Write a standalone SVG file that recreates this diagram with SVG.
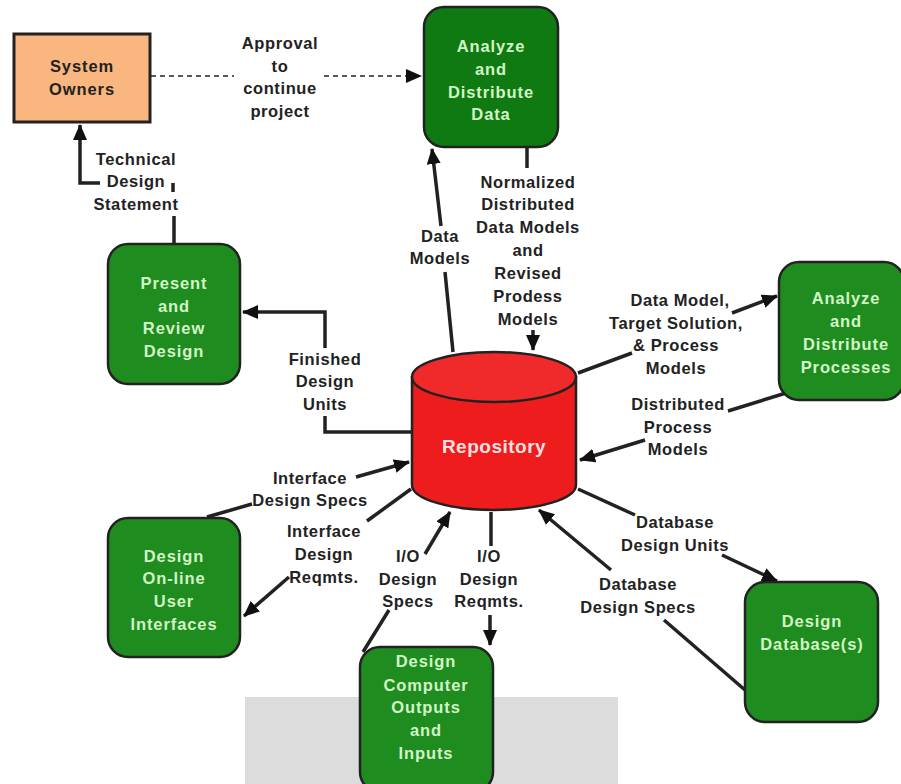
<svg xmlns="http://www.w3.org/2000/svg" width="901" height="784" viewBox="0 0 901 784">
<style>
.lbl{font-family:"Liberation Sans",Arial,sans-serif;font-weight:bold;font-size:16.5px;letter-spacing:0.6px;fill:#222;text-anchor:middle}
.nt{font-family:"Liberation Sans",Arial,sans-serif;font-weight:bold;font-size:16.5px;letter-spacing:0.9px;fill:#d2f5c6;text-anchor:middle}
.box{fill:#1f8c1f;stroke:#222;stroke-width:2.5}
.dk{fill:#0f7a12}
.ln{fill:none;stroke:#222;stroke-width:3.5}
</style>
<defs>
<marker id="ah" markerUnits="userSpaceOnUse" markerWidth="16" markerHeight="14" viewBox="0 0 16 14" refX="15" refY="7" orient="auto">
<path d="M0,0 L16,7 L0,14 Z" fill="#111"/>
</marker>
</defs>
<rect width="901" height="784" fill="#fff"/>
<rect x="245" y="697" width="373" height="87" fill="#dcdcdc"/>

<g id="connectors">
<path class="ln" d="M151,76 H234 M324,76 H421" stroke-dasharray="5,4" style="stroke-width:1.5" marker-end="url(#ah)"/>
<path class="ln" d="M174,244 V216 M173,192 V183 M100,183 H80 V125" marker-end="url(#ah)"/>
<path class="ln" d="M453,352 L445,272 M441,226 L432,149" marker-end="url(#ah)"/>
<path class="ln" d="M527,148 V168 M533,330 V350" marker-end="url(#ah)"/>
<path class="ln" d="M578,373 L632,353 M732,313 L777,296" marker-end="url(#ah)"/>
<path class="ln" d="M786,393 L728,411 M645,440 L580,460" marker-end="url(#ah)"/>
<path class="ln" d="M411,432 H325 V416 M325,348 V312 H243" marker-end="url(#ah)"/>
<path class="ln" d="M207,517 L252,504 M356,477 L409,462" marker-end="url(#ah)"/>
<path class="ln" d="M411,489 L367,521 M289,577 L244,616" marker-end="url(#ah)"/>
<path class="ln" d="M363,652 L389,610 M425,554 L450,512" marker-end="url(#ah)"/>
<path class="ln" d="M491,512 V546 M490,615 V645" marker-end="url(#ah)"/>
<path class="ln" d="M578,489 L635,515 M722,555 L777,581" marker-end="url(#ah)"/>
<path class="ln" d="M745,690 L664,620 M611,570 L539,510" marker-end="url(#ah)"/>

<text class="lbl"><tspan x="280" y="49">Approval</tspan><tspan x="280" y="72">to</tspan><tspan x="280" y="94">continue</tspan><tspan x="280" y="117">project</tspan></text>
<text class="lbl"><tspan x="136" y="165">Technical</tspan><tspan x="136" y="187">Design</tspan><tspan x="136" y="210">Statement</tspan></text>
<text class="lbl"><tspan x="440" y="242">Data</tspan><tspan x="440" y="264">Models</tspan></text>
<text class="lbl"><tspan x="528" y="188">Normalized</tspan><tspan x="528" y="210">Distributed</tspan><tspan x="528" y="233">Data Models</tspan><tspan x="528" y="256">and</tspan><tspan x="528" y="279">Revised</tspan><tspan x="528" y="302">Prodess</tspan><tspan x="528" y="325">Models</tspan></text>
<text class="lbl"><tspan x="680" y="306">Data Model,</tspan><tspan x="676" y="329">Target Solution,</tspan><tspan x="676" y="351">&amp; Process</tspan><tspan x="676" y="374">Models</tspan></text>
<text class="lbl"><tspan x="678" y="410">Distributed</tspan><tspan x="678" y="433">Process</tspan><tspan x="678" y="455">Models</tspan></text>
<text class="lbl"><tspan x="325" y="365">Finished</tspan><tspan x="325" y="387">Design</tspan><tspan x="325" y="410">Units</tspan></text>
<text class="lbl"><tspan x="310" y="484">Interface</tspan><tspan x="310" y="506">Design Specs</tspan></text>
<text class="lbl"><tspan x="324" y="537">Interface</tspan><tspan x="324" y="560">Design</tspan><tspan x="324" y="583">Reqmts.</tspan></text>
<text class="lbl"><tspan x="408" y="562">I/O</tspan><tspan x="408" y="585">Design</tspan><tspan x="408" y="607">Specs</tspan></text>
<text class="lbl"><tspan x="489" y="562">I/O</tspan><tspan x="489" y="585">Design</tspan><tspan x="489" y="607">Reqmts.</tspan></text>
<text class="lbl"><tspan x="675" y="528">Database</tspan><tspan x="675" y="551">Design Units</tspan></text>
<text class="lbl"><tspan x="638" y="590">Database</tspan><tspan x="638" y="613">Design Specs</tspan></text>
</g>

<g id="system-owners">
<rect x="14" y="34" width="136" height="88" fill="#f9b67e" stroke="#222" stroke-width="3"/>
<text class="nt" style="fill:#222"><tspan x="82" y="72">System</tspan><tspan x="82" y="95">Owners</tspan></text>
</g>

<g id="analyze-data">
<rect class="box dk" x="424" y="7" width="134" height="140" rx="20"/>
<text class="nt"><tspan x="491" y="52">Analyze</tspan><tspan x="491" y="75">and</tspan><tspan x="491" y="98">Distribute</tspan><tspan x="491" y="120">Data</tspan></text>
</g>

<g id="present-review">
<rect class="box" x="108" y="244" width="132" height="140" rx="20"/>
<text class="nt"><tspan x="174" y="289">Present</tspan><tspan x="174" y="312">and</tspan><tspan x="174" y="334">Review</tspan><tspan x="174" y="357">Design</tspan></text>
</g>

<g id="analyze-processes">
<rect class="box" x="779" y="262" width="125" height="138" rx="20"/>
<text class="nt"><tspan x="846" y="304">Analyze</tspan><tspan x="846" y="327">and</tspan><tspan x="846" y="350">Distribute</tspan><tspan x="846" y="373">Processes</tspan></text>
</g>

<g id="online-ui">
<rect class="box" x="108" y="518" width="132" height="139" rx="20"/>
<text class="nt"><tspan x="174" y="562">Design</tspan><tspan x="174" y="584">On-line</tspan><tspan x="174" y="607">User</tspan><tspan x="174" y="630">Interfaces</tspan></text>
</g>

<g id="outputs-inputs">
<rect class="box" x="360" y="647" width="133" height="145" rx="20"/>
<text class="nt"><tspan x="426" y="667">Design</tspan><tspan x="426" y="691">Computer</tspan><tspan x="426" y="713">Outputs</tspan><tspan x="426" y="736">and</tspan><tspan x="426" y="759">Inputs</tspan></text>
</g>

<g id="design-database">
<rect class="box" x="745" y="582" width="133" height="140" rx="20"/>
<text class="nt"><tspan x="812" y="627">Design</tspan><tspan x="812" y="650">Database(s)</tspan></text>
</g>

<g id="repository">
<path d="M412,377 V485 A82,25 0 0 0 576,485 V377 Z" fill="#ee1c1c" stroke="#222" stroke-width="2.5"/>
<ellipse cx="494" cy="377" rx="82" ry="25" fill="#f02a2a" stroke="#222" stroke-width="2.5"/>
<text x="494" y="453" style="font-family:'Liberation Sans',Arial,sans-serif;font-weight:bold;font-size:19px;letter-spacing:0.5px;fill:#fbe0e0;text-anchor:middle">Repository</text>
</g>
</svg>
